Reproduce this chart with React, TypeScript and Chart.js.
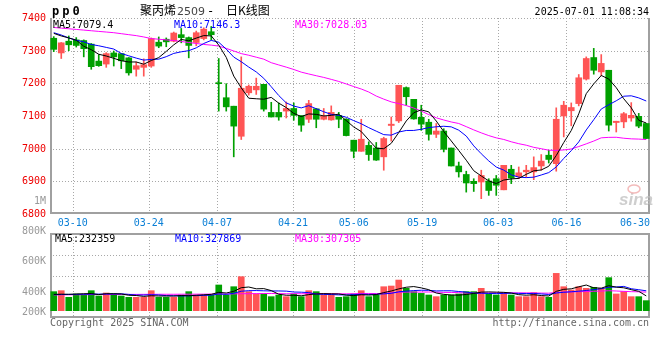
import React, { useEffect, useRef } from 'react';
import { Chart, registerables } from 'chart.js';

Chart.register(...registerables);

// ---------------- data ----------------
const dates = [
  '03-05','03-06','03-07','03-10','03-11','03-12','03-13','03-14','03-17','03-18',
  '03-19','03-20','03-21','03-24','03-25','03-26','03-27','03-28','03-31','04-01',
  '04-02','04-03','04-07','04-08','04-09','04-10','04-11','04-14','04-15','04-16',
  '04-17','04-18','04-21','04-22','04-23','04-24','04-25','04-28','04-29','04-30',
  '05-06','05-07','05-08','05-09','05-12','05-13','05-14','05-15','05-16','05-19',
  '05-20','05-21','05-22','05-23','05-26','05-27','05-28','05-29','05-30','06-03',
  '06-04','06-05','06-06','06-09','06-10','06-11','06-12','06-13','06-16','06-17',
  '06-18','06-19','06-20','06-23','06-24','06-25','06-26','06-27','06-30','07-01',
];

const opens = [
  7338,7293,7329,7333,7331,7320,7268,7259,7293,7291,
  7278,7243,7249,7253,7326,7335,7329,7349,7340,7325,
  7337,7358,7202,7156,7130,7038,7171,7180,7197,7111,
  7111,7115,7123,7101,7090,7122,7090,7088,7102,7090,
  7026,6992,7010,7002,6975,7071,7085,7187,7151,7096,
  7081,7044,7054,7002,6947,6921,6900,6898,6901,6908,
  6874,6937,6915,6929,6929,6947,6980,6954,7100,7116,
  7138,7213,7279,7235,7240,7080,7082,7094,7099,7077,
];
const highs = [
  7343,7325,7345,7340,7333,7322,7288,7294,7299,7291,
  7279,7265,7275,7339,7342,7339,7357,7368,7342,7360,
  7370,7374,7276,7199,7130,7281,7195,7216,7197,7142,
  7140,7143,7140,7101,7148,7123,7123,7131,7111,7092,
  7026,7090,7021,7019,7035,7097,7194,7189,7151,7133,
  7090,7077,7061,7002,6959,6931,6908,6934,6908,6918,
  6949,6949,6944,6949,6975,6982,6995,7125,7145,7140,
  7227,7281,7307,7288,7240,7084,7111,7141,7108,7077,
];
const lows = [
  7297,7276,7300,7311,7281,7243,7252,7249,7253,7245,
  7225,7222,7222,7249,7309,7312,7327,7324,7278,7315,
  7333,7333,7115,7115,6975,7028,7164,7166,7115,7097,
  7087,7094,7087,7053,7080,7064,7088,7087,7064,7039,
  6972,6992,6964,6964,6934,7023,7080,7133,7090,7056,
  7026,7034,6990,6947,6913,6867,6869,6847,6857,6857,
  6874,6893,6908,6913,6905,6934,6956,6931,7036,7070,
  7131,7210,7228,7223,7054,7051,7064,7084,7064,7031,
];
const closes = [
  7304,7324,7318,7316,7306,7251,7254,7291,7281,7269,
  7232,7254,7257,7337,7314,7327,7354,7340,7316,7355,
  7366,7349,7199,7128,7069,7185,7191,7191,7121,7097,
  7097,7123,7102,7072,7138,7090,7099,7111,7090,7040,
  6992,7029,6982,6965,7031,7075,7194,7159,7091,7075,
  7044,7054,6998,6947,6929,6895,6893,6918,6872,6888,
  6949,6910,6926,6934,6942,6962,6967,7090,7133,7126,
  7217,7276,7240,7261,7072,7084,7107,7102,7069,7031,
];
const volumes = [
  311000,327000,218000,273000,256000,327000,240000,289000,273000,240000,
  218000,218000,218000,327000,218000,218000,218000,256000,311000,256000,
  256000,256000,420000,256000,392000,556000,311000,273000,273000,229000,
  256000,229000,273000,229000,327000,311000,256000,256000,218000,229000,
  273000,327000,229000,256000,392000,403000,501000,365000,311000,283000,
  256000,229000,256000,256000,273000,311000,311000,365000,273000,256000,
  294000,256000,229000,229000,294000,229000,218000,610000,392000,338000,
  392000,365000,382000,365000,540000,273000,311000,229000,229000,164000,
];

const ma5Lead = [7353, 7345, 7339, 7332];
const ma10Lead = [7355, 7348, 7339, 7332, 7327, 7319, 7315, 7310, 7305];
const ma30Lead = [
  7371,7369,7367,7365,7363,7361,7359,7357,7355,7352,
  7349,7346,7342,7337,7335,7333,7331,7328,7325,7322,
  7319,7317,7314,7307,7299,7291,7286,7280,7274,
];
const volMa5Lead = [266000, 270000, 268000, 272000];
const volMa10Lead = [262000, 264000, 265000, 266000, 268000, 270000, 271000, 272000, 273000];
const volMa30Lead = [
  258000,259000,260000,261000,262000,263000,264000,264000,265000,265000,
  266000,266000,267000,267000,268000,268000,268000,269000,269000,270000,
  270000,271000,272000,273000,275000,277000,278000,279000,280000,
];

const priceTicks = [6800, 6900, 7000, 7100, 7200, 7300, 7400];
const dateTicks = ['03-10','03-24','04-07','04-21','05-06','05-19','06-03','06-16','06-30'];
const volumeAxisLabels = ['1M', '800K', '600K', '400K', '200K'];
const priceLegend = ['MA5:7079.4', 'MA10:7146.3', 'MA30:7028.03'];
const volumeLegend = ['MA5:232359', 'MA10:327869', 'MA30:307305'];
const titleCode = 'pp0';
const titleName = '聚丙烯';
const titleContract = '2509';
const titleKind = '日K线图';
const timestamp = '2025-07-01 11:08:34';
const copyrightText = 'Copyright 2025 SINA.COM';
const urlText = 'http://finance.sina.com.cn';

// ---------------- style ----------------
const UP = '#ff5555';
const DOWN = '#00a000';
const GRID = '#a8a8a8';
const BORDER = '#a0a0a0';
const LINE_COLORS = ['#000000', '#0000ff', '#ff00ff'];
const MONO = '"DejaVu Sans Mono", "Liberation Mono", monospace';
const CJK = '"Noto Sans CJK SC", sans-serif';

function movingAverage(values: number[], n: number, lead: number[]): number[] {
  return values.map((_, i) => {
    if (i < n - 1) return lead[i];
    let s = 0;
    for (let k = i - n + 1; k <= i; k++) s += values[k];
    return s / n;
  });
}

const candleColors = closes.map((c, i) => (c >= opens[i] ? UP : DOWN));

function seg(ctx: CanvasRenderingContext2D, x1: number, y1: number, x2: number, y2: number) {
  ctx.beginPath();
  ctx.moveTo(x1, y1);
  ctx.lineTo(x2, y2);
  ctx.stroke();
}

function gridXs(chart: any): number[] {
  const xg = chart.scales.xg;
  const a = chart.chartArea;
  return dateTicks
    .map((d) => Math.round(xg.getPixelForValue(dates.indexOf(d))) + 0.5)
    .filter((px) => a.right - px > 10);
}

function drawDateLabels(chart: any) {
  const { ctx, chartArea: a } = chart;
  const xg = chart.scales.xg;
  ctx.font = `10px ${MONO}`;
  ctx.fillStyle = '#0a7fd6';
  ctx.textAlign = 'left';
  ctx.textBaseline = 'alphabetic';
  dateTicks.forEach((d) => {
    const px = xg.getPixelForValue(dates.indexOf(d));
    const w = ctx.measureText(d).width;
    let left = px - w / 2;
    if (left + w > a.right) left = a.right - w;
    ctx.fillText(d, left, a.bottom + 11.5);
  });
}

const pricePanel = {
  id: 'pricePanel',
  beforeDatasetsDraw(chart: any) {
    const { ctx, chartArea: a } = chart;
    const y = chart.scales.y;
    ctx.save();
    ctx.strokeStyle = GRID;
    ctx.lineWidth = 1;
    ctx.setLineDash([1, 2]);
    priceTicks.forEach((v) => {
      if (v === priceTicks[0]) return;
      const py = Math.round(y.getPixelForValue(v)) + 0.5;
      seg(ctx, a.left, py, a.right, py);
    });
    gridXs(chart).forEach((px) => seg(ctx, px, a.top, px, a.bottom));
    ctx.setLineDash([]);
    ctx.strokeStyle = BORDER;
    ctx.lineWidth = 2;
    ctx.beginPath();
    ctx.moveTo(a.left + 1, a.top);
    ctx.lineTo(a.left + 1, a.bottom - 1);
    ctx.lineTo(a.right - 1, a.bottom - 1);
    ctx.lineTo(a.right - 1, a.top);
    ctx.stroke();
    ctx.restore();
  },
  afterDraw(chart: any) {
    const { ctx, chartArea: a } = chart;
    const y = chart.scales.y;
    ctx.save();
    // y labels
    ctx.font = `10px ${MONO}`;
    ctx.fillStyle = '#ee0000';
    ctx.textAlign = 'right';
    ctx.textBaseline = 'alphabetic';
    priceTicks.forEach((v) => {
      ctx.fillText(String(v), a.left - 4, y.getPixelForValue(v) + 3);
    });
    // legend
    ctx.textAlign = 'left';
    priceLegend.forEach((t, i) => {
      ctx.fillStyle = LINE_COLORS[i];
      ctx.fillText(t, a.left + 3 + i * 121, a.top + 9.5);
    });
    // x labels
    drawDateLabels(chart);
    // title
    ctx.fillStyle = '#000';
    ctx.font = `bold 12px ${MONO}`;
    (ctx as any).letterSpacing = '3px';
    ctx.fillText(titleCode, 52, 15);
    (ctx as any).letterSpacing = '0px';
    ctx.font = `12px ${CJK}`;
    ctx.fillText(titleName, 140, 15);
    ctx.fillStyle = '#444';
    ctx.font = `11px "DejaVu Sans", sans-serif`;
    ctx.fillText(titleContract, 177, 15);
    ctx.fillStyle = '#000';
    ctx.font = `12px ${MONO}`;
    ctx.fillText('-', 207, 15);
    ctx.font = `12px ${CJK}`;
    ctx.fillText(titleKind, 226, 15);
    // timestamp
    ctx.font = `10px ${MONO}`;
    ctx.textAlign = 'right';
    ctx.fillText(timestamp, a.right - 1, 15);
    // watermark
    ctx.textAlign = 'left';
    ctx.font = `italic bold 17px "Liberation Sans", sans-serif`;
    ctx.fillStyle = 'rgba(190,190,190,0.75)';
    ctx.fillText('sina', a.right - 31, a.bottom - 9);
    ctx.strokeStyle = 'rgba(240,170,170,0.8)';
    ctx.lineWidth = 1.5;
    ctx.beginPath();
    ctx.ellipse(a.right - 16, a.bottom - 25, 6, 4, 0, 0, Math.PI * 2);
    ctx.stroke();
    ctx.restore();
  },
};

const volumePanel = {
  id: 'volumePanel',
  beforeDatasetsDraw(chart: any) {
    const { ctx, chartArea: a } = chart;
    ctx.save();
    ctx.strokeStyle = GRID;
    ctx.lineWidth = 1;
    ctx.setLineDash([1, 2]);
    const h = a.bottom - a.top;
    [0.25, 0.5].forEach((f) => {
      const py = Math.round(a.top + h * f) + 0.5;
      seg(ctx, a.left, py, a.right, py);
    });
    gridXs(chart).forEach((px) => seg(ctx, px, a.top, px, a.bottom));
    ctx.setLineDash([]);
    ctx.strokeStyle = BORDER;
    ctx.lineWidth = 2;
    ctx.strokeRect(a.left + 1, a.top, a.right - a.left - 2, a.bottom - a.top - 1);
    ctx.restore();
  },
  afterDraw(chart: any) {
    const { ctx, chartArea: a } = chart;
    ctx.save();
    ctx.font = `10px ${MONO}`;
    ctx.textBaseline = 'alphabetic';
    // axis labels (Sina places them at a fixed step above the panel's base)
    ctx.fillStyle = '#999';
    ctx.textAlign = 'right';
    const offsets = [-30.5, 0, 30, 60.5, 80.5];
    volumeAxisLabels.forEach((t, i) => {
      ctx.fillText(t, a.left - 4, a.top + offsets[i]);
    });
    ctx.textAlign = 'left';
    volumeLegend.forEach((t, i) => {
      ctx.fillStyle = LINE_COLORS[i];
      ctx.fillText(t, a.left + 5 + i * 120, a.top + 7.5);
    });
    ctx.fillStyle = '#666';
    ctx.fillText(copyrightText, a.left, a.bottom + 7.5);
    ctx.textAlign = 'right';
    ctx.fillText(urlText, a.right - 1, a.bottom + 7.5);
    ctx.restore();
  },
};

function lineDataset(label: string, data: number[], color: string) {
  return {
    type: 'line' as const,
    label,
    data,
    borderColor: color,
    borderWidth: 1,
    pointRadius: 0,
    tension: 0,
    fill: false,
    order: 1,
    xAxisID: 'x',
    yAxisID: 'y',
  };
}

function baseOptions(padding: any, yMin: number, yMax: number) {
  return {
    responsive: false,
    animation: false as const,
    events: [],
    layout: { padding },
    scales: {
      x: { type: 'category' as const, display: false, offset: true },
      xg: { type: 'linear' as const, display: false, min: 0, max: dates.length - 1, offset: false },
      y: { type: 'linear' as const, display: false, min: yMin, max: yMax },
    },
    plugins: { legend: { display: false }, tooltip: { enabled: false } },
  };
}

export default function App() {
  const priceRef = useRef<HTMLCanvasElement>(null);
  const volRef = useRef<HTMLCanvasElement>(null);

  useEffect(() => {
    const priceChart = new Chart(priceRef.current as HTMLCanvasElement, {
      type: 'bar',
      data: {
        labels: dates,
        datasets: [
          lineDataset('MA5', movingAverage(closes, 5, ma5Lead), LINE_COLORS[0]),
          lineDataset('MA10', movingAverage(closes, 10, ma10Lead), LINE_COLORS[1]),
          lineDataset('MA30', movingAverage(closes, 30, ma30Lead), LINE_COLORS[2]),
          {
            type: 'bar',
            label: 'wick',
            data: lows.map((l, i) => [l, highs[i]]),
            backgroundColor: candleColors,
            barThickness: 1,
            grouped: false,
            order: 3,
            xAxisID: 'x',
            yAxisID: 'y',
          },
          {
            type: 'bar',
            label: 'body',
            data: opens.map((o, i) => [o, closes[i]]),
            backgroundColor: candleColors,
            barThickness: 6,
            minBarLength: 1,
            grouped: false,
            order: 2,
            xAxisID: 'x',
            yAxisID: 'y',
          },
        ] as any,
      },
      options: baseOptions({ left: 50, right: 10, top: 18, bottom: 146 }, 6800, 7400) as any,
      plugins: [pricePanel],
    });

    const volChart = new Chart(volRef.current as HTMLCanvasElement, {
      type: 'bar',
      data: {
        labels: dates,
        datasets: [
          lineDataset('VMA5', movingAverage(volumes, 5, volMa5Lead), LINE_COLORS[0]),
          lineDataset('VMA10', movingAverage(volumes, 10, volMa10Lead), LINE_COLORS[1]),
          lineDataset('VMA30', movingAverage(volumes, 30, volMa30Lead), LINE_COLORS[2]),
          {
            type: 'bar',
            label: 'volume',
            data: volumes,
            backgroundColor: candleColors,
            barThickness: 6,
            order: 2,
            xAxisID: 'x',
            yAxisID: 'y',
          },
        ] as any,
      },
      options: baseOptions({ left: 50, right: 10, top: 234, bottom: 42 }, -120000, 1254000) as any,
      plugins: [volumePanel],
    });

    return () => {
      priceChart.destroy();
      volChart.destroy();
    };
  }, []);

  return (
    <div style={{ position: 'fixed', left: 0, top: 0, width: 660, height: 360, background: '#fff' }}>
      <canvas ref={volRef} width={660} height={360} style={{ position: 'absolute', left: 0, top: 0 }} />
      <canvas ref={priceRef} width={660} height={360} style={{ position: 'absolute', left: 0, top: 0 }} />
    </div>
  );
}
